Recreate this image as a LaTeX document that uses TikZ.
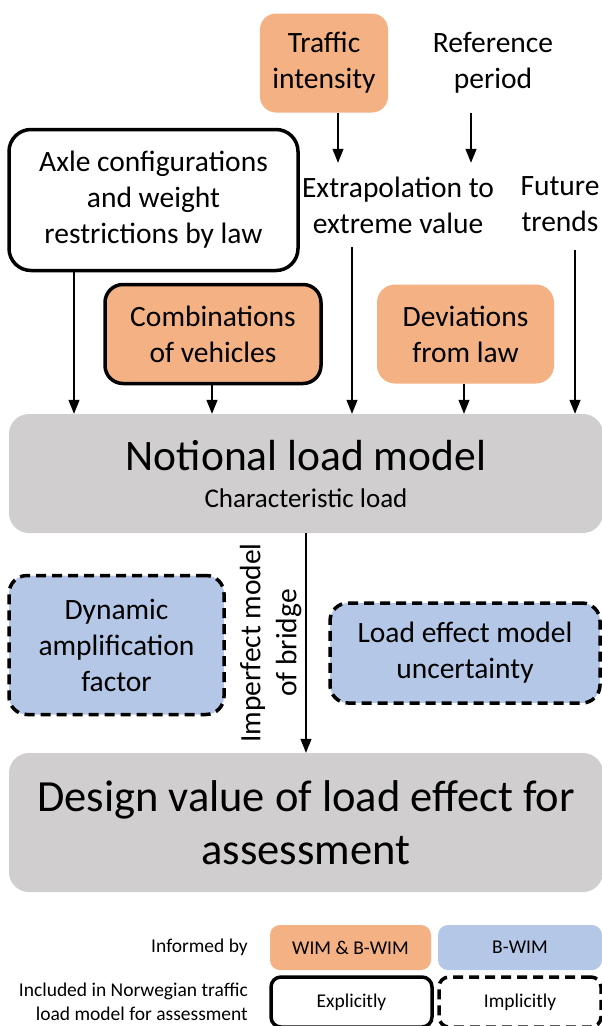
\documentclass[tikz,border=0pt]{standalone}
\usepackage{fontspec}
\setmainfont{Carlito}
\usetikzlibrary{arrows.meta}
\definecolor{org}{HTML}{F4B183}
\definecolor{blu}{HTML}{B4C7E7}
\definecolor{gry}{HTML}{D0CECE}
\begin{document}
\begin{tikzpicture}[x=1pt,y=-1pt,
  base/.style={align=center, inner sep=0pt, text=black, font=\fontsize{29.5}{36}\selectfont},
  orgbox/.style={base, fill=org, rounded corners=18pt},
  blubox/.style={base, fill=blu, rounded corners=18pt},
  grybox/.style={base, fill=gry, rounded corners=20pt},
  thickb/.style={draw=black, line width=3.5pt},
  dashb/.style={draw=black, line width=3.5pt, dash pattern=on 10pt off 6pt},
  arr/.style={-{Triangle[width=11pt,length=14pt]}, line width=1.2pt},
  legtext/.style={align=right, inner sep=0pt, font=\fontsize{19.5}{24}\selectfont},
  legbox/.style={base, font=\fontsize{19.5}{24}\selectfont, rounded corners=10pt},
]
\useasboundingbox (0,0) rectangle (602,1026);

% top row
\node[orgbox, minimum width=128pt, minimum height=99pt, rounded corners=16pt] (ti) at (324,63) {Traffic\\intensity};
\node[base, minimum height=99pt] (rp) at (493,63) {Reference\\period};

\node[base, thickb, fill=white, minimum width=289pt, minimum height=141pt, rounded corners=22pt] (axle) at (153.5,200) {Axle configurations\\and weight\\restrictions by law};
\node[base, minimum height=84pt] (extra) at (398,205) {Extrapolation to\\extreme value};
\node[base, minimum height=92pt] (future) at (560,204) {Future\\trends};

\node[orgbox, thickb, minimum width=216pt, minimum height=99pt] (comb) at (213,334) {Combinations\\of vehicles};
\node[orgbox, minimum width=177pt, minimum height=99pt] (dev) at (465.5,334) {Deviations\\from law};

% notional load model
\node[grybox, minimum width=594pt, minimum height=119pt] (notional) at (306,473.5) {};
\node[inner sep=0pt, font=\fontsize{43.5}{50}\selectfont] (nlm) at (306,456) {Notional load model};
\node[inner sep=0pt, font=\fontsize{27}{32}\selectfont] (cl) at (306,498) {Characteristic load};

% middle
\node[blubox, dashb, minimum width=215pt, minimum height=139pt] (dyn) at (116.5,645) {Dynamic\\amplification\\factor};
\node[blubox, dashb, minimum width=270pt, minimum height=100pt] (lem) at (465,653) {Load effect model\\uncertainty};

% design value
\node[grybox, minimum width=594pt, minimum height=139pt, font=\fontsize{44.5}{53}\selectfont] (design) at (306,822.5) {Design value of load effect for\\assessment};

% connector coordinates
\coordinate (c1) at (74,0);
\coordinate (c2) at (212,0);
\coordinate (c3) at (352,0);
\coordinate (c4) at (464,0);
\coordinate (c5) at (575,0);
\coordinate (c6) at (338,0);
\coordinate (c7) at (471,0);
\coordinate (c8) at (306,0);

\draw[arr] (ti.south -| c6) -- (extra.north -| c6);
\draw[arr] (rp.south -| c7) -- (extra.north -| c7);
\draw[arr] (axle.south -| c1) -- (notional.north -| c1);
\draw[arr] (comb.south -| c2) -- (notional.north -| c2);
\draw[arr] (extra.south -| c3) -- (notional.north -| c3);
\draw[arr] (dev.south -| c4) -- (notional.north -| c4);
\draw[arr] (future.south -| c5) -- (notional.north -| c5);
\draw[arr] (notional.south -| c8) -- node[pos=0.5, left=4pt, rotate=90, anchor=south, base, inner sep=0pt] (imp) {Imperfect model\\of bridge} (design.north -| c8);

% legend
\node[legtext, anchor=east] (inf) at (248,947) {Informed by};
\node[legtext, anchor=east] (inc) at (248,1002) {Included in Norwegian traffic\\load model for assessment};
\node[legbox, fill=org, minimum width=161pt, minimum height=45pt] (l1) at (350.5,947.5) {WIM \& B-WIM};
\node[legbox, fill=blu, minimum width=164pt, minimum height=45pt] (l2) at (520,947.5) {B-WIM};
\node[legbox, thickb, fill=white, minimum width=161pt, minimum height=50pt] (l3) at (351.5,1002) {Explicitly};
\node[legbox, dashb, fill=white, minimum width=162pt, minimum height=50pt] (l4) at (520,1002) {Implicitly};
\end{tikzpicture}
\end{document}
